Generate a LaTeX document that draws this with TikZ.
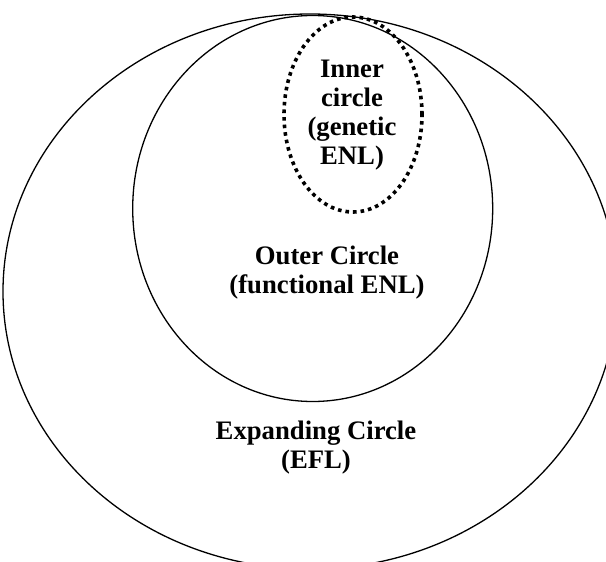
\documentclass[tikz,border=0pt]{standalone}
\usepackage{fontspec}
\setmainfont{Liberation Serif}
\begin{document}
\begin{tikzpicture}[%
            x=1pt, y=-1pt,
            mycircle/.style={draw=black, line width=1.3pt},
            mydots/.style={draw=black, line width=3.6pt, dash pattern=on 3.6pt off 4pt},
            mylabel/.style={align=center, inner sep=0pt,
                font=\fontsize{26.7}{29}\selectfont\bfseries}
    ]
        \useasboundingbox (0,0) rectangle (606,562);
        \clip (0,0) rectangle (606,562);

        \coordinate (expanding) at (310,291.5);
        \coordinate (outer) at (312.7,208.5);
        \coordinate (inner) at (353,114.5);

        \draw [mycircle] (expanding) ellipse [x radius=307pt, y radius=277.5pt];
        \draw [mycircle] (outer) ellipse [x radius=180pt, y radius=193pt];
        \draw [mydots] (inner) ellipse [x radius=69pt, y radius=97.5pt];

        \path (352,115) node [mylabel] (innerlabel) {Inner\\circle\\(genetic\\ENL)};
        \path (327,273) node [mylabel] (outerlabel) {Outer Circle\\(functional ENL)};
        \path (316,448) node [mylabel] (expandinglabel) {Expanding Circle\\(EFL)};
    \end{tikzpicture}
\end{document}
